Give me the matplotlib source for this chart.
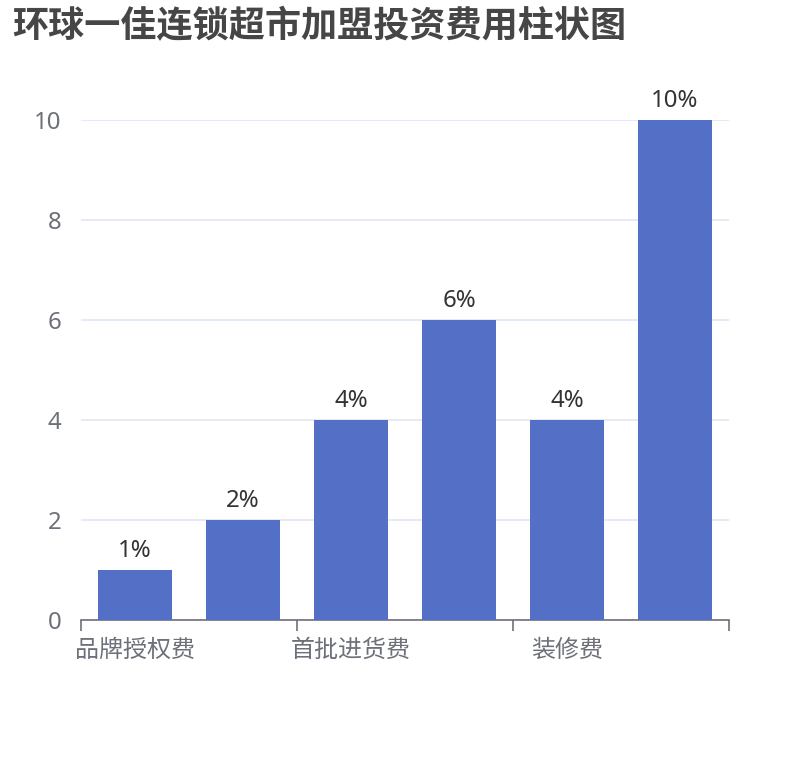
import matplotlib
matplotlib.use('Agg')
import matplotlib.pyplot as plt
import numpy as np

plt.rcParams['font.family'] = ['Noto Sans', 'Noto Sans CJK SC', 'DejaVu Sans']

# data
categories = ['品牌授权费', '保证金', '首批进货费', '设备费', '装修费', '流动资金']
values = [1, 2, 4, 6, 4, 10]
value_labels = ['1%', '2%', '4%', '6%', '4%', '10%']
shown_labels = ['品牌授权费', '首批进货费', '装修费']
y_ticks = [0, 2, 4, 6, 8, 10]

W, H = 810, 760
fig = plt.figure(figsize=(W / 100, H / 100), dpi=100)
# plot area in pixels: x 81..729, y 120..620
ax = fig.add_axes([81 / W, 1 - 620 / H, 648 / W, 500 / H])

x = np.arange(len(categories))
ax.bar(x, values, width=0.69, color='#5470c6', zorder=3)

for xi, v, lab in zip(x, values, value_labels):
    ax.annotate(lab, (xi, v), xytext=(0, 7), textcoords='offset pixels',
                ha='center', va='bottom', fontsize=17.3, color='#333333')

ax.set_xlim(-0.5, len(categories) - 0.5)
ax.set_ylim(0, 10)

ax.set_yticks(y_ticks)
ax.set_yticklabels([str(t) for t in y_ticks])
ax.tick_params(axis='y', length=0, pad=14, labelsize=17.3, labelcolor='#6e7079')
ax.yaxis.grid(True, color='#e0e6f1', linewidth=1.2, zorder=0)

# ticks at every other category boundary, labels under bars 1,3,5
ax.set_xticks(np.arange(-0.5, len(categories), 2))
ax.set_xticklabels([])
ax.tick_params(axis='x', which='major', length=8, width=1.2, color='#6e7079')
ax.set_xticks(x[::2], minor=True)
ax.set_xticklabels(shown_labels, minor=True, family=['Noto Sans CJK SC', 'DejaVu Sans'])
ax.tick_params(axis='x', which='minor', length=0, pad=12, labelsize=17.3,
               labelcolor='#6e7079')

for s in ['top', 'right', 'left']:
    ax.spines[s].set_visible(False)
ax.spines['bottom'].set_color('#6e7079')
ax.spines['bottom'].set_linewidth(1.2)
ax.spines['bottom'].set_zorder(4)

fig.text(12 / W, 1 - 27 / H, '环球一佳连锁超市加盟投资费用柱状图', fontsize=26,
         fontweight='bold', color='#464646', ha='left', va='center',
         family=['Noto Sans CJK SC', 'DejaVu Sans'])

fig.savefig('out.png', dpi=100)
